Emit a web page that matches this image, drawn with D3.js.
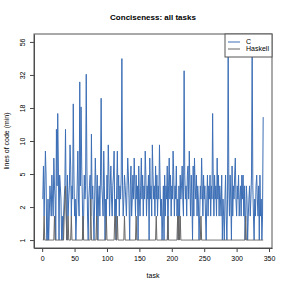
<!DOCTYPE html>
<html>
<head>
<meta charset="utf-8">
<script src="https://cdn.jsdelivr.net/npm/d3@7"></script>
<style>
  body { margin: 0; background: #fff; }
  text { font-family: "Liberation Sans", Arial, sans-serif; fill: #000; }
</style>
</head>
<body>
<div id="chart"></div>
<script>
// lines of code (min) per task
const cLines = [
  3, 6, 2, 4, 8, 5, 1, 1, 3, 1, 2, 4, 3, 2, 5, 3, 2, 7, 4, 3,
  1, 12, 4, 16, 6, 1, 5, 4, 3, 1, 2, 1, 2, 3, 4, 12, 3, 1, 5, 2,
  3, 4, 9, 6, 2, 4, 3, 19, 5, 2, 3, 1, 2, 4, 8, 3, 2, 28, 4, 18,
  6, 3, 1, 2, 5, 3, 4, 32, 6, 2, 1, 3, 4, 5, 2, 11, 3, 4, 2, 1,
  3, 7, 4, 2, 5, 1, 3, 4, 2, 5, 21, 4, 3, 2, 8, 4, 1, 3, 2, 5,
  3, 9, 5, 2, 4, 6, 3, 2, 4, 5, 8, 2, 3, 1, 4, 8, 3, 5, 2, 4,
  3, 5, 42, 4, 2, 3, 5, 4, 3, 2, 4, 7, 5, 3, 1, 4, 6, 2, 3, 5,
  3, 7, 4, 2, 5, 3, 4, 1, 6, 3, 2, 4, 7, 3, 5, 2, 4, 3, 8, 5,
  2, 4, 3, 5, 1, 7, 3, 4, 2, 9, 5, 3, 4, 2, 6, 3, 5, 2, 4, 3,
  9, 4, 2, 3, 1, 2, 4, 1, 5, 2, 4, 3, 6, 1, 4, 7, 3, 5, 2, 4,
  3, 8, 5, 2, 4, 3, 6, 2, 3, 1, 4, 2, 5, 3, 4, 6, 3, 2, 34, 5,
  3, 4, 2, 5, 6, 3, 8, 4, 2, 5, 3, 1, 6, 2, 7, 4, 3, 5, 2, 4,
  3, 1, 2, 4, 3, 7, 4, 2, 5, 3, 4, 2, 1, 3, 5, 2, 4, 3, 5, 2,
  4, 3, 16, 4, 2, 5, 3, 4, 2, 7, 3, 5, 2, 4, 3, 2, 5, 1, 3, 2,
  1, 3, 5, 2, 1, 3, 50, 4, 2, 5, 3, 1, 6, 2, 4, 3, 5, 7, 3, 2,
  4, 3, 5, 2, 3, 4, 2, 5, 3, 5, 2, 4, 1, 2, 4, 3, 1, 2, 3, 4,
  2, 3, 5, 56, 4, 2, 1, 3, 2, 4, 5, 3, 2, 4, 1, 5, 2, 3, 1, 2, 15
];

const haskellLines = [
  1, 1, 2, 1, 1, 1, 1, 1, 1, 1, 1, 1, 1, 1, 1, 1, 1, 1, 2, 1,
  1, 1, 1, 1, 1, 1, 1, 1, 1, 1, 1, 1, 1, 2, 3, 4, 2, 1, 1, 2,
  1, 1, 1, 1, 2, 1, 1, 1, 1, 1, 1, 1, 1, 1, 1, 1, 1, 1, 1, 1,
  1, 1, 2, 1, 1, 1, 1, 1, 1, 1, 1, 1, 1, 1, 3, 1, 1, 1, 1, 1,
  1, 1, 1, 2, 1, 1, 1, 1, 1, 1, 1, 1, 1, 1, 1, 1, 1, 1, 2, 1,
  1, 1, 1, 1, 1, 1, 1, 1, 1, 1, 1, 2, 2, 1, 1, 2, 1, 1, 1, 1,
  1, 1, 1, 1, 1, 1, 2, 1, 1, 1, 1, 1, 1, 1, 1, 1, 1, 1, 1, 1,
  1, 1, 1, 1, 2, 1, 1, 1, 1, 1, 1, 1, 1, 1, 1, 1, 1, 1, 1, 1,
  1, 1, 1, 1, 1, 1, 1, 1, 1, 1, 1, 1, 1, 1, 1, 2, 1, 1, 1, 1,
  1, 1, 1, 1, 1, 1, 1, 1, 1, 1, 1, 1, 1, 2, 1, 1, 1, 1, 1, 1,
  1, 1, 1, 1, 1, 1, 1, 1, 2, 1, 2, 1, 2, 1, 1, 1, 1, 1, 1, 1,
  1, 1, 1, 1, 1, 1, 1, 1, 1, 1, 1, 1, 1, 1, 1, 1, 1, 1, 1, 1,
  1, 1, 1, 1, 2, 1, 1, 1, 1, 1, 1, 1, 1, 1, 1, 1, 1, 1, 1, 1,
  1, 1, 1, 1, 1, 1, 1, 1, 1, 1, 1, 1, 1, 1, 1, 1, 1, 1, 1, 1,
  1, 1, 1, 1, 1, 1, 1, 1, 1, 1, 1, 1, 1, 1, 1, 1, 1, 1, 1, 1,
  1, 1, 1, 1, 1, 1, 1, 1, 1, 1, 1, 1, 1, 2, 1, 1, 1, 1, 1, 1,
  1, 1, 1, 1, 1, 1, 1, 1, 1, 1, 1, 1, 1, 1, 1, 1, 1, 1, 1, 1, 1
];

const xTicks = [0, 50, 100, 150, 200, 250, 300, 350];
const yTickLabels = [1, 2, 5, 10, 18, 32, 56];
const seriesNames = ['C', 'Haskell'];
const seriesColors = ['#3d6fb6', '#666666'];

const W = 291, H = 291;
const box = { left: 34, right: 272, top: 34, bottom: 248 };

const svg = d3.select('#chart').append('svg')
  .attr('width', W)
  .attr('height', H);

// R style: 4% padding around the data range
let n = cLines.length;
let xPad = (n - 1) * 0.04;
let x = d3.scaleLinear()
  .domain([1 - xPad, n + xPad])
  .range([box.left, box.right]);

// y is log(lines + 1), ticks evenly spaced in that space
let lo = Math.log(2), hi = Math.log(57);
let yPad = (hi - lo) * 0.04;
let y = d3.scaleLog()
  .domain([Math.exp(lo - yPad), Math.exp(hi + yPad)])
  .range([box.bottom, box.top]);

let yTickPos = yTickLabels.map((d, i) =>
  Math.exp(lo + i * (hi - lo) / (yTickLabels.length - 1)));

let line = d3.line()
  .x((d, i) => x(i + 1))
  .y(d => y(d + 1));

svg.append('path')
  .datum(cLines)
  .attr('fill', 'none')
  .attr('stroke', seriesColors[0])
  .attr('stroke-width', 1)
  .attr('d', line);

svg.append('path')
  .datum(haskellLines)
  .attr('fill', 'none')
  .attr('stroke', seriesColors[1])
  .attr('stroke-width', 1)
  .attr('d', line);

// X axis
let xAxis = svg.append('g')
  .attr('transform', 'translate(0,' + box.bottom + ')')
  .call(d3.axisBottom(x).tickValues(xTicks).tickSize(4).tickSizeOuter(0).tickPadding(4));
xAxis.selectAll('text').style('font-size', '7px');

// Y axis, labels turned parallel to the axis
let yAxis = svg.append('g')
  .attr('transform', 'translate(' + box.left + ',0)')
  .call(d3.axisLeft(y).tickValues(yTickPos)
    .tickFormat((d, i) => yTickLabels[i])
    .tickSize(4).tickSizeOuter(0));
yAxis.selectAll('text')
  .style('font-size', '7px')
  .attr('text-anchor', 'middle')
  .attr('x', null)
  .attr('transform', 'translate(-11,0) rotate(-90)')
  .attr('y', 0)
  .attr('dy', '0.32em');

svg.selectAll('.domain').attr('stroke', '#444');
svg.selectAll('.tick line').attr('stroke', '#444');

// plot box
svg.append('rect')
  .attr('x', box.left)
  .attr('y', box.top)
  .attr('width', box.right - box.left)
  .attr('height', box.bottom - box.top)
  .attr('fill', 'none')
  .attr('stroke', '#555')
  .attr('stroke-width', 1);

// titles
svg.append('text')
  .attr('x', (box.left + box.right) / 2)
  .attr('y', 20)
  .attr('text-anchor', 'middle')
  .style('font-size', '8px')
  .style('font-weight', 'bold')
  .text('Conciseness: all tasks');

svg.append('text')
  .attr('x', (box.left + box.right) / 2)
  .attr('y', 278)
  .attr('text-anchor', 'middle')
  .style('font-size', '7px')
  .text('task');

svg.append('text')
  .attr('transform', 'translate(9,' + (box.top + box.bottom) / 2 + ') rotate(-90)')
  .attr('text-anchor', 'middle')
  .style('font-size', '7px')
  .text('lines of code (min)');

// legend
let legend = svg.append('g');
legend.append('rect')
  .attr('x', 225)
  .attr('y', box.top)
  .attr('width', box.right - 225)
  .attr('height', 23)
  .attr('fill', '#fff')
  .attr('stroke', '#555');

seriesNames.forEach((name, i) => {
  let ly = 42 + i * 7;
  legend.append('line')
    .attr('x1', 228).attr('x2', 240)
    .attr('y1', ly).attr('y2', ly)
    .attr('stroke', seriesColors[i])
    .attr('stroke-width', 1);
  legend.append('text')
    .attr('x', 246)
    .attr('y', ly)
    .attr('dy', '0.35em')
    .style('font-size', '7px')
    .text(name);
});
</script>
</body>
</html>
